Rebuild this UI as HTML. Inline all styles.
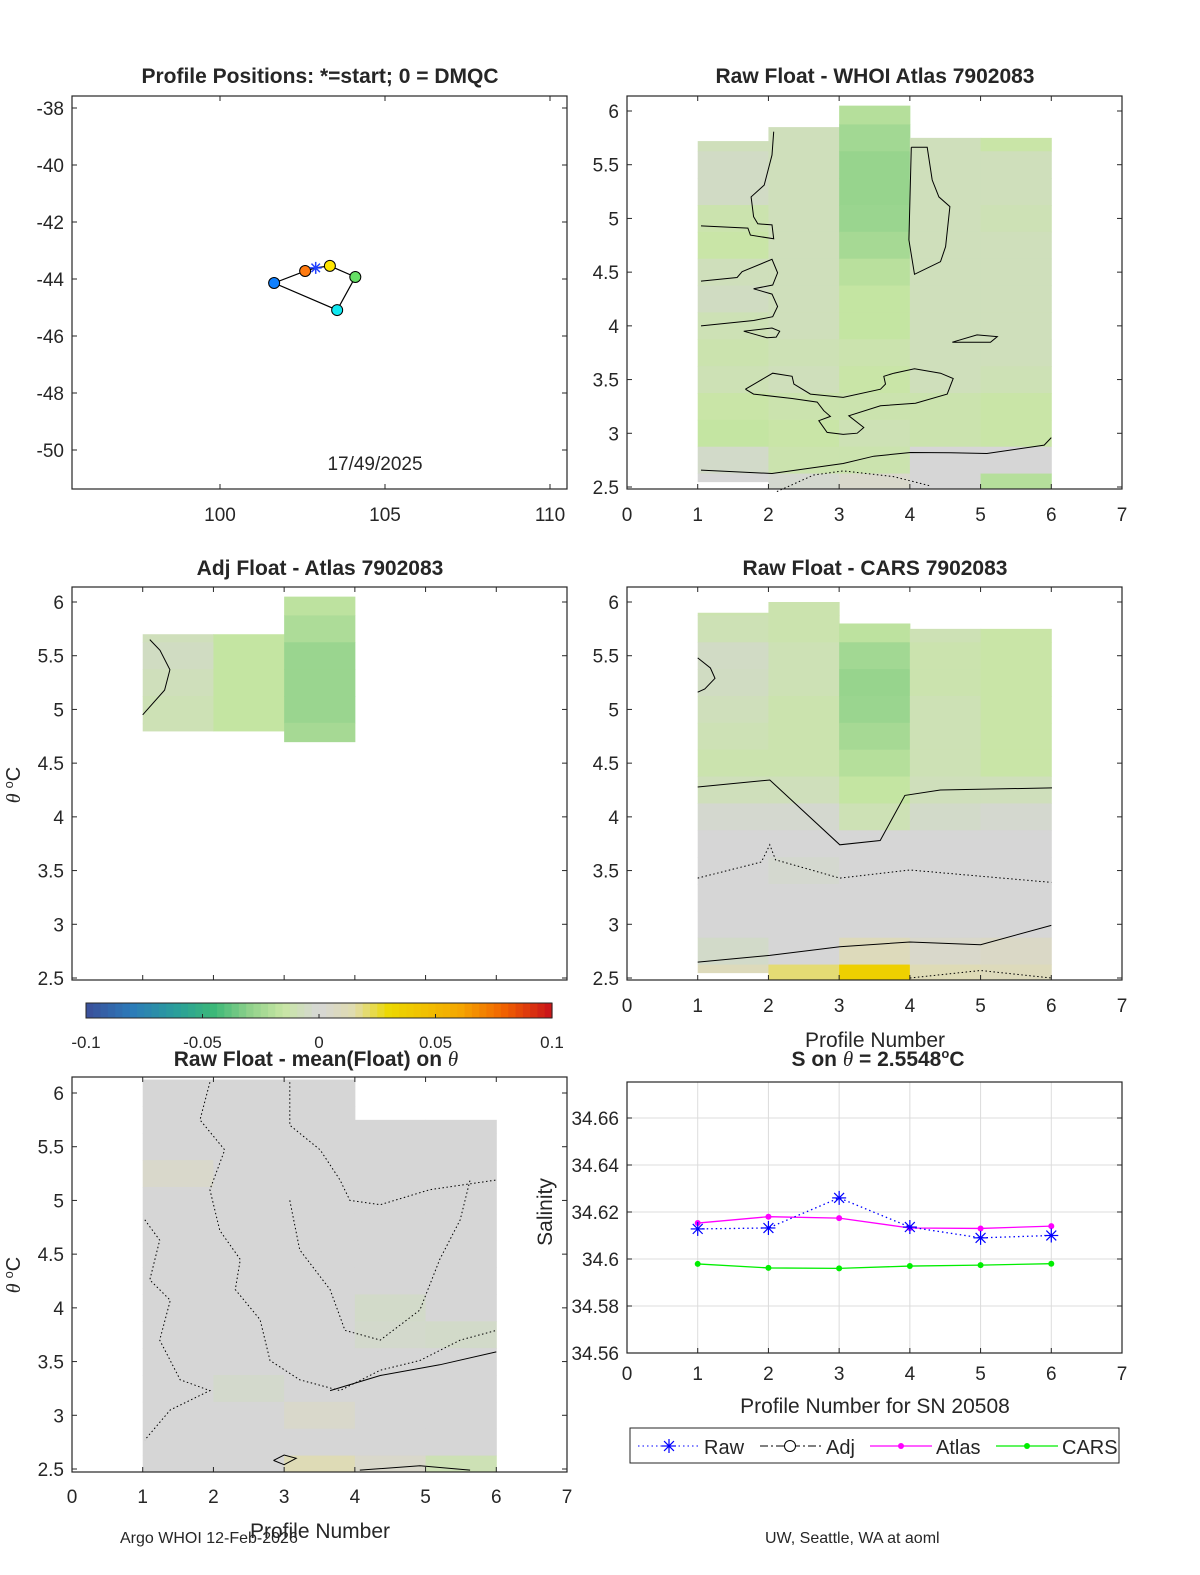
<!DOCTYPE html>
<html><head><meta charset="utf-8"><style>
html,body{margin:0;padding:0;background:#fff}
svg{display:block;font-family:"Liberation Sans","DejaVu Sans",sans-serif}
</style></head><body>
<svg id="fig" width="1200" height="1575" viewBox="0 0 1200 1575" xmlns="http://www.w3.org/2000/svg"></svg>
<script>
// ---------- data ----------
const thetaCells=[6.0,5.75,5.5,5.25,5.0,4.75,4.5,4.25,4.0,3.75,3.5,3.25,3.0,2.75,2.5];
// Panel 2: Raw - WHOI Atlas
const p2Tops=[5.72,5.85,6.05,5.75,5.75];
const p2Bots=[2.55,2.45,2.45,2.45,2.45];
const p2Vals=[
[-0.01,-0.008,-0.005,-0.005,-0.012,-0.014,-0.008,-0.006,-0.01,-0.012,-0.01,-0.014,-0.016,-0.004,0],
[-0.008,-0.008,-0.008,-0.008,-0.008,-0.008,-0.008,-0.008,-0.008,-0.01,-0.008,-0.012,-0.014,-0.012,-0.002],
[-0.02,-0.025,-0.028,-0.028,-0.027,-0.024,-0.019,-0.016,-0.016,-0.012,-0.014,-0.012,-0.01,-0.012,0.004],
[-0.018,-0.008,-0.008,-0.008,-0.008,-0.008,-0.008,-0.008,-0.008,-0.008,-0.008,-0.012,-0.012,0,0],
[-0.016,-0.014,-0.008,-0.008,-0.01,-0.008,-0.008,-0.008,-0.008,-0.008,-0.01,-0.014,-0.014,0,-0.02]];
// Panel 3: Adj - Atlas
const p3Tops=[5.7,5.7,6.05];
const p3Bots=[4.8,4.8,4.7];
const p3Vals=[
[-0.008,-0.008,-0.006,-0.008,-0.01,-0.01,0,0,0,0,0,0,0,0,0],
[-0.016,-0.016,-0.016,-0.016,-0.016,-0.016,0,0,0,0,0,0,0,0,0],
[-0.018,-0.022,-0.027,-0.027,-0.027,-0.024,0,0,0,0,0,0,0,0,0]];
// Panel 4: Raw - CARS
const p4Tops=[5.9,6.0,5.8,5.75,5.75];
const p4Bots=[2.55,2.45,2.45,2.45,2.45];
const p4Vals=[
[-0.012,-0.01,-0.005,-0.006,-0.008,-0.01,-0.012,-0.008,-0.002,0,0,0,0,-0.004,0.01],
[-0.012,-0.012,-0.01,-0.01,-0.012,-0.012,-0.012,-0.008,-0.002,0,-0.002,0,0,0,0.02],
[-0.02,-0.018,-0.025,-0.028,-0.027,-0.024,-0.02,-0.016,-0.01,0,0,0,0,0.01,0.035],
[-0.012,-0.01,-0.012,-0.012,-0.01,-0.01,-0.01,-0.008,-0.004,0,0,0,0,0.004,0.012],
[-0.014,-0.014,-0.014,-0.014,-0.014,-0.014,-0.014,-0.008,-0.002,0,0,0,0,0.006,0.01]];
// Panel 5: Raw - mean(Float)
const p5Tops=[6.2,6.2,6.2,5.75,5.75];
const p5Bots=[2.45,2.45,2.45,2.45,2.45];
const p5Vals=[
[0,0,0,0.004,0,0,0,0,0,0,0,0,0,0,0],
[0,0,0,0,0,0,0,0,0,0,0,-0.003,0,0,0],
[0,0,0,0,0,0,0,0,0,0,0,0,0.004,0,0.012],
[0,0,0,0,0,0,0,0,-0.004,-0.003,0,0,0,0,0.004],
[0,0,0,0,0,0,0,0,0,-0.004,0,0,0,0,-0.01]];
// contours [profile, theta]
const p2Contours=[
 {dash:false,pts:[[2.075,5.807],[2.05,5.59],[1.94,5.31],[1.755,5.2],[1.79,5.016],[1.85,4.95],[2.05,4.94],[2.075,4.81],[1.745,4.845],[1.71,4.91],[1.047,4.93]]},
 {dash:false,pts:[[4.02,5.662],[4.245,5.662],[4.316,5.358],[4.41,5.2],[4.566,5.11],[4.505,4.737],[4.434,4.597],[4.066,4.48],[3.986,4.8],[4.02,5.662]]},
 {dash:false,pts:[[1.047,4.417],[1.557,4.45],[1.627,4.504],[2.05,4.62],[2.13,4.494],[2.06,4.38],[1.79,4.345],[2.05,4.296],[2.13,4.18],[2.06,4.085],[1.79,4.05],[1.047,4.0]]},
 {dash:false,pts:[[1.65,3.95],[2.05,3.98],[2.16,3.95],[2.11,3.895],[1.98,3.89],[1.65,3.95]]},
 {dash:false,pts:[[4.6,3.848],[4.95,3.916],[5.236,3.9],[5.14,3.848],[4.6,3.848]]},
 {dash:false,pts:[[1.675,3.41],[2.06,3.559],[2.335,3.53],[2.36,3.458],[2.594,3.365],[3.057,3.334],[3.585,3.41],[3.656,3.458],[3.632,3.53],[3.774,3.559],[4.066,3.6],[4.434,3.559],[4.613,3.51],[4.528,3.365],[4.08,3.28],[3.585,3.256],[3.137,3.163],[3.349,3.054],[3.255,3.001],[3.057,2.99],[2.83,3.008],[2.712,3.117],[2.877,3.157],[2.783,3.21],[2.689,3.29],[2.335,3.324],[1.79,3.365],[1.675,3.41]]},
 {dash:false,pts:[[1.047,2.657],[2.05,2.626],[3.057,2.719],[3.49,2.787],[4.01,2.821],[4.575,2.818],[5.09,2.812],[5.9,2.89],[6.0,2.96]]},
 {dash:true,pts:[[2.12,2.457],[2.64,2.612],[3.057,2.65],[3.77,2.597],[4.29,2.51]]}];
const p3Contours=[{dash:false,pts:[[1.0,4.95],[1.31,5.18],[1.385,5.37],[1.245,5.55],[1.1,5.65]]}];
const p4Contours=[
 {dash:false,pts:[[1.0,5.48],[1.18,5.386],[1.245,5.29],[1.1,5.19],[1.0,5.16]]},
 {dash:false,pts:[[1.0,4.278],[2.02,4.343],[3.01,3.74],[3.58,3.78],[3.93,4.2],[4.43,4.25],[6.01,4.27]]},
 {dash:true,pts:[[1.0,3.43],[1.9,3.58],[2.02,3.74],[2.1,3.6],[3.01,3.43],[4.0,3.505],[6.0,3.39]]},
 {dash:false,pts:[[1.0,2.648],[2.02,2.71],[3.01,2.79],[4.0,2.835],[5.0,2.81],[6.0,2.99]]},
 {dash:true,pts:[[4.0,2.5],[5.0,2.57],[6.0,2.5]]}];
const p5Contours=[
 {dash:true,pts:[[1.95,6.1],[1.81,5.75],[2.16,5.47],[1.95,5.1],[2.09,4.72],[2.38,4.45],[2.31,4.17],[2.66,3.89],[2.8,3.51],[3.22,3.33],[3.79,3.23],[4.36,3.42],[4.92,3.51],[5.49,3.7],[6.0,3.79]]},
 {dash:true,pts:[[3.08,6.1],[3.08,5.7],[3.51,5.47],[3.79,5.19],[3.93,5.0],[4.36,4.96],[5.06,5.1],[6.0,5.19]]},
 {dash:true,pts:[[3.08,5.0],[3.22,4.54],[3.65,4.17],[3.86,3.79],[4.36,3.7],[4.92,3.98],[5.2,4.45],[5.49,4.82],[5.63,5.19]]},
 {dash:true,pts:[[1.03,4.82],[1.24,4.63],[1.1,4.26],[1.39,4.07],[1.24,3.7],[1.53,3.33],[1.95,3.23],[1.39,3.05],[1.03,2.77]]},
 {dash:false,pts:[[3.65,3.23],[4.36,3.37],[5.2,3.47],[6.0,3.59]]},
 {dash:false,pts:[[4.07,2.49],[4.92,2.53],[5.63,2.49]]},
 {dash:false,pts:[[2.85,2.58],[3.0,2.63],[3.17,2.6],[3.0,2.54],[2.85,2.58]]}];
// Panel 1 positions
const posLon=[102.9,103.33,104.1,103.55,101.64,102.58];
const posLat=[-43.61,-43.54,-43.93,-45.09,-44.14,-43.72];
const posColors=['#1f3fff','#ffe600','#66e066','#10e8f0','#1080ff','#ff7a10'];
// Panel 6 salinity
const profiles=[1,2,3,4,5,6];
const salRaw=[34.6128,34.6132,34.626,34.6136,34.609,34.610];
const salAtlas=[34.6153,34.618,34.6174,34.6132,34.613,34.614];
const salCars=[34.5979,34.5962,34.596,34.597,34.5974,34.598];
const salTicks=[34.56,34.58,34.6,34.62,34.64,34.66];
const cbTicks=[-0.1,-0.05,0,0.05,0.1];

// ---------- helpers ----------
const NS='http://www.w3.org/2000/svg';
const svg=document.getElementById('fig');
function mk(tag,attrs,parent){const e=document.createElementNS(NS,tag);for(const k in attrs)e.setAttribute(k,attrs[k]);(parent||svg).appendChild(e);return e;}
function txt(s,x,y,size,anchor,weight,parent){const t=mk('text',{x:x,y:y,'font-size':size,'text-anchor':anchor||'middle','font-weight':weight||'normal',fill:'#262626'},parent);t.textContent=s;return t;}
const stops=[[-0.1,[59,79,154]],[-0.08,[43,123,185]],[-0.06,[42,161,152]],[-0.045,[60,184,120]],[-0.03,[143,209,138]],[-0.015,[200,230,164]],[0,[214,214,214]],[0.015,[224,220,174]],[0.03,[236,216,0]],[0.06,[245,168,0]],[0.08,[240,96,0]],[0.1,[200,16,26]]];
function cmap(v){v=Math.max(-0.1,Math.min(0.1,v));for(let i=0;i<stops.length-1;i++){const a=stops[i],b=stops[i+1];if(v<=b[0]){const t=(v-a[0])/(b[0]-a[0]);const c=a[1].map((x,j)=>Math.round(x+(b[1][j]-x)*t));return 'rgb('+c.join(',')+')';}}return 'rgb(200,16,26)';}

function thetaAxes(L,T,R,B,name){
  const sx=p=>L+(R-L)*p/7;
  const ty6=T+15, ty25=B-2;
  const sy=t=>ty6+(6-t)*(ty25-ty6)/3.5;
  return {sx,sy,L,T,R,B,name};
}
function drawBox(ax,xt,yt){
  const g=mk('g',{});
  
  mk('rect',{x:ax.L,y:ax.T,width:ax.R-ax.L,height:ax.B-ax.T,fill:'none',stroke:'#262626','stroke-width':1.2},g);
  xt.forEach(v=>{const x=ax.sx(v);mk('line',{x1:x,y1:ax.B,x2:x,y2:ax.B-5,stroke:'#262626'},g);mk('line',{x1:x,y1:ax.T,x2:x,y2:ax.T+5,stroke:'#262626'},g);});
  yt.forEach(v=>{const y=ax.sy(v);mk('line',{x1:ax.L,y1:y,x2:ax.L+5,y2:y,stroke:'#262626'},g);mk('line',{x1:ax.R,y1:y,x2:ax.R-5,y2:y,stroke:'#262626'},g);});
}
function drawHeat(ax,tops,bots,vals,name){
  const g=mk('g',{});
  
  vals.forEach((col,ci)=>{
    thetaCells.forEach((t,ri)=>{
      const hi=Math.min(t+0.125,tops[ci]), lo=Math.max(t-0.125,bots[ci]);
      if(hi<=lo)return;
      const y1=Math.max(ax.T,ax.sy(hi)), y2=Math.min(ax.B,ax.sy(lo));
      const r=mk('rect',{x:ax.sx(ci+1),y:y1,width:ax.sx(ci+2)-ax.sx(ci+1)+0.5,height:y2-y1+0.5,fill:cmap(col[ri])},g);
      
      
    });
  });
}
function drawContours(ax,list,name){
  list.forEach(c=>{
    const d=c.pts.map((p,i)=>(i?'L':'M')+ax.sx(p[0]).toFixed(1)+','+Math.max(ax.T,ax.sy(p[1])).toFixed(1)).join('');
    const e=mk('path',{d:d,fill:'none',stroke:'#000','stroke-width':1,'stroke-dasharray':c.dash?'1.5,2.5':'none'});
    
    
  });
}
function thetaTickLabels(ax,x){
  [6,5.5,5,4.5,4,3.5,3,2.5].forEach(v=>{const t=txt(String(v),x,ax.sy(v)+7,19,'end');});
}
function profTickLabels(ax,y){
  [0,1,2,3,4,5,6,7].forEach(v=>{const t=txt(String(v),ax.sx(v),y,19,'middle');});
}
function thetaYLabel(x,y){
  const t=mk('text',{x:0,y:0,'font-size':20,'text-anchor':'middle',fill:'#262626',transform:'translate('+x+','+y+') rotate(-90)'});
  
  const a=mk('tspan',{'font-style':'italic','font-family':'Liberation Serif,serif'},t);a.textContent='θ ';
  const b=mk('tspan',{'font-size':13,dy:-7},t);b.textContent='o';
  const c=mk('tspan',{dy:7},t);c.textContent='C';
}
const thetaTicks=[2.5,3,3.5,4,4.5,5,5.5,6];
const profTicks=[0,1,2,3,4,5,6,7];

// ---------- Panel 1 ----------
(function(){
  const L=72,T=96,R=567,B=489;
  const sx=lon=>220+(lon-100)*33, sy=lat=>108+(-38-lat)*28.5;
  mk('rect',{x:L,y:T,width:R-L,height:B-T,fill:'none',stroke:'#262626','stroke-width':1.2});
  [100,105,110].forEach(v=>{mk('line',{x1:sx(v),y1:B,x2:sx(v),y2:B-5,stroke:'#262626'});mk('line',{x1:sx(v),y1:T,x2:sx(v),y2:T+5,stroke:'#262626'});const t=txt(String(v),sx(v),521,19);});
  [-38,-40,-42,-44,-46,-48,-50].forEach(v=>{mk('line',{x1:L,y1:sy(v),x2:L+5,y2:sy(v),stroke:'#262626'});mk('line',{x1:R,y1:sy(v),x2:R-5,y2:sy(v),stroke:'#262626'});const t=txt(String(v),64,sy(v)+7,19,'end');});
  const d=posLon.map((v,i)=>(i?'L':'M')+sx(v)+','+sy(posLat[i])).join('')+'Z';
  const tr=mk('path',{d:d,fill:'none',stroke:'#000','stroke-width':1.2});
  
  posLon.forEach((v,i)=>{
    if(i===0)return;
    const c=mk('circle',{cx:sx(v),cy:sy(posLat[i]),r:5.5,fill:posColors[i],stroke:'#000','stroke-width':1});
    
  });
  const x0=sx(posLon[0]),y0=sy(posLat[0]);
  const st=mk('g',{stroke:posColors[0],'stroke-width':1.5});
  
  for(let a=0;a<4;a++){const ang=a*Math.PI/4;mk('line',{x1:x0-6*Math.cos(ang),y1:y0-6*Math.sin(ang),x2:x0+6*Math.cos(ang),y2:y0+6*Math.sin(ang)},st);}
  const dt=txt('17/49/2025',375,470,19);
  const tt=txt('Profile Positions: *=start; 0 = DMQC',320,83,21,'middle','bold');
})();

// ---------- Panel 2 ----------
(function(){
  const ax=thetaAxes(627,96,1122,489,'atlas-diff');
  drawHeat(ax,p2Tops,p2Bots,p2Vals,'atlas-heatmap');
  drawContours(ax,p2Contours,'atlas');
  drawBox(ax,profTicks,thetaTicks);
  thetaTickLabels(ax,619);profTickLabels(ax,521);
  const t=txt('Raw Float - WHOI Atlas  7902083',875,83,21,'middle','bold');
})();

// ---------- Panel 3 ----------
(function(){
  const ax=thetaAxes(72,587,567,980,'adj-atlas');
  drawHeat(ax,p3Tops,p3Bots,p3Vals,'adj-heatmap');
  drawContours(ax,p3Contours,'adj');
  drawBox(ax,profTicks,thetaTicks);
  thetaTickLabels(ax,64);
  thetaYLabel(20,785);
  const t=txt('Adj Float - Atlas  7902083',320,575,21,'middle','bold');
  const cb=mk('g',{});
  const cL=86,cR=552,n=64;
  for(let i=0;i<n;i++){const v=-0.1+0.2*(i+0.5)/n;mk('rect',{x:cL+(cR-cL)*i/n,y:1003,width:(cR-cL)/n+0.6,height:15,fill:cmap(v)},cb);}
  mk('rect',{x:cL,y:1003,width:cR-cL,height:15,fill:'none',stroke:'#262626'},cb);
  cbTicks.forEach(v=>{const x=cL+(v+0.1)/0.2*(cR-cL);mk('line',{x1:x,y1:1018,x2:x,y2:1014,stroke:'#262626'},cb);const t=txt(String(v),x,1048,17);});
})();

// ---------- Panel 4 ----------
(function(){
  const ax=thetaAxes(627,587,1122,980,'cars-diff');
  drawHeat(ax,p4Tops,p4Bots,p4Vals,'cars-heatmap');
  drawContours(ax,p4Contours,'cars');
  drawBox(ax,profTicks,thetaTicks);
  thetaTickLabels(ax,619);profTickLabels(ax,1012);
  const xl=txt('Profile Number',875,1047,21);
  const t=txt('Raw Float - CARS  7902083',875,575,21,'middle','bold');
})();

// ---------- Panel 5 ----------
(function(){
  const ax=thetaAxes(72,1077,567,1472,'mean-diff');
  ax.sy=t=>1093+(6-t)*(1469-1093)/3.5;
  drawHeat(ax,p5Tops,p5Bots,p5Vals,'mean-heatmap');
  drawContours(ax,p5Contours,'mean');
  drawBox(ax,profTicks,thetaTicks);
  thetaTickLabels(ax,64);profTickLabels(ax,1503);
  thetaYLabel(20,1275);
  const xl=txt('Profile Number',320,1538,21);
  const t=mk('text',{x:316,y:1066,'font-size':21,'text-anchor':'middle','font-weight':'bold',fill:'#262626'});
  
  t.textContent='Raw Float - mean(Float) on ';
  const s=mk('tspan',{'font-style':'italic','font-weight':'normal','font-family':'Liberation Serif,serif'},t);s.textContent='θ';
})();

// ---------- Panel 6 ----------
(function(){
  const L=627,T=1082,R=1122,B=1353;
  const sx=p=>L+(R-L)*p/7, sy=s=>B-(s-34.56)/0.02*47;
  const g=mk('g',{});
  profTicks.forEach(v=>mk('line',{x1:sx(v),y1:T,x2:sx(v),y2:B,stroke:'#dcdcdc'},g));
  salTicks.forEach(v=>mk('line',{x1:L,y1:sy(v),x2:R,y2:sy(v),stroke:'#dcdcdc'},g));
  mk('rect',{x:L,y:T,width:R-L,height:B-T,fill:'none',stroke:'#262626','stroke-width':1.2});
  profTicks.forEach(v=>{mk('line',{x1:sx(v),y1:B,x2:sx(v),y2:B-5,stroke:'#262626'});const t=txt(String(v),sx(v),1380,19);});
  salTicks.forEach(v=>{mk('line',{x1:L,y1:sy(v),x2:L+5,y2:sy(v),stroke:'#262626'});mk('line',{x1:R,y1:sy(v),x2:R-5,y2:sy(v),stroke:'#262626'});const t=txt(v.toFixed(2).replace(/0$/,'').replace(/\.$/,''),619,sy(v)+7,19,'end');});
  function line(vals,color,dash,name){
    const d=vals.map((v,i)=>(i?'L':'M')+sx(profiles[i])+','+sy(v)).join('');
    const p=mk('path',{d:d,fill:'none',stroke:color,'stroke-width':1.3,'stroke-dasharray':dash||'none'});
    
  }
  line(salAtlas,'#ff00ff',null,'atlas');
  salAtlas.forEach((v,i)=>{const c=mk('circle',{cx:sx(profiles[i]),cy:sy(v),r:3,fill:'#ff00ff'});});
  line(salCars,'#00ee00',null,'cars');
  salCars.forEach((v,i)=>{const c=mk('circle',{cx:sx(profiles[i]),cy:sy(v),r:3,fill:'#00ee00'});});
  line(salRaw,'#0000ff','1.5,3','raw');
  salRaw.forEach((v,i)=>{
    const x=sx(profiles[i]),y=sy(v);
    const st=mk('g',{stroke:'#0000ff','stroke-width':1.2});
    
    for(let a=0;a<4;a++){const ang=a*Math.PI/4;mk('line',{x1:x-7*Math.cos(ang),y1:y-7*Math.sin(ang),x2:x+7*Math.cos(ang),y2:y+7*Math.sin(ang)},st);}
  });
  const xl=txt('Profile Number for SN 20508',875,1413,21);
  const yl=mk('text',{x:0,y:0,'font-size':21,'text-anchor':'middle',fill:'#262626',transform:'translate(552,1212) rotate(-90)'});
  yl.textContent='Salinity';
  const t=mk('text',{x:878,y:1066,'font-size':21,'text-anchor':'middle','font-weight':'bold',fill:'#262626'});
  
  t.textContent='S on ';
  const a=mk('tspan',{'font-style':'italic','font-weight':'normal','font-family':'Liberation Serif,serif'},t);a.textContent='θ';
  const b=mk('tspan',{},t);b.textContent=' = 2.5548';
  const c=mk('tspan',{'font-size':13,dy:-8},t);c.textContent='o';
  const d=mk('tspan',{dy:8},t);d.textContent='C';
  const lg=mk('g',{});
  mk('rect',{x:630,y:1428,width:489,height:35,fill:'#fff',stroke:'#262626'},lg);
  const ly=1446;
  const e1=mk('g',{},lg);
  mk('line',{x1:638,y1:ly,x2:700,y2:ly,stroke:'#0000ff','stroke-dasharray':'1.5,3'},e1);
  for(let a2=0;a2<4;a2++){const ang=a2*Math.PI/4;mk('line',{x1:669-7*Math.cos(ang),y1:ly-7*Math.sin(ang),x2:669+7*Math.cos(ang),y2:ly+7*Math.sin(ang),stroke:'#0000ff','stroke-width':1.2},e1);}
  txt('Raw',704,ly+8,20,'start',null,e1);
  const e2=mk('g',{},lg);
  mk('line',{x1:760,y1:ly,x2:821,y2:ly,stroke:'#000','stroke-dasharray':'8,3,2,3'},e2);
  mk('circle',{cx:790,cy:ly,r:5.5,fill:'#fff',stroke:'#000'},e2);
  txt('Adj',826,ly+8,20,'start',null,e2);
  const e3=mk('g',{},lg);
  mk('line',{x1:870,y1:ly,x2:932,y2:ly,stroke:'#ff00ff','stroke-width':1.3},e3);
  mk('circle',{cx:901,cy:ly,r:3,fill:'#ff00ff'},e3);
  txt('Atlas',936,ly+8,20,'start',null,e3);
  const e4=mk('g',{},lg);
  mk('line',{x1:996,y1:ly,x2:1058,y2:ly,stroke:'#00ee00','stroke-width':1.3},e4);
  mk('circle',{cx:1027,cy:ly,r:3,fill:'#00ee00'},e4);
  txt('CARS',1062,ly+8,20,'start',null,e4);
})();

const f1=txt('Argo WHOI 12-Feb-2026',120,1543,16,'start');
const f2=txt('UW, Seattle, WA at aoml',765,1543,16,'start');
</script>
</body></html>
